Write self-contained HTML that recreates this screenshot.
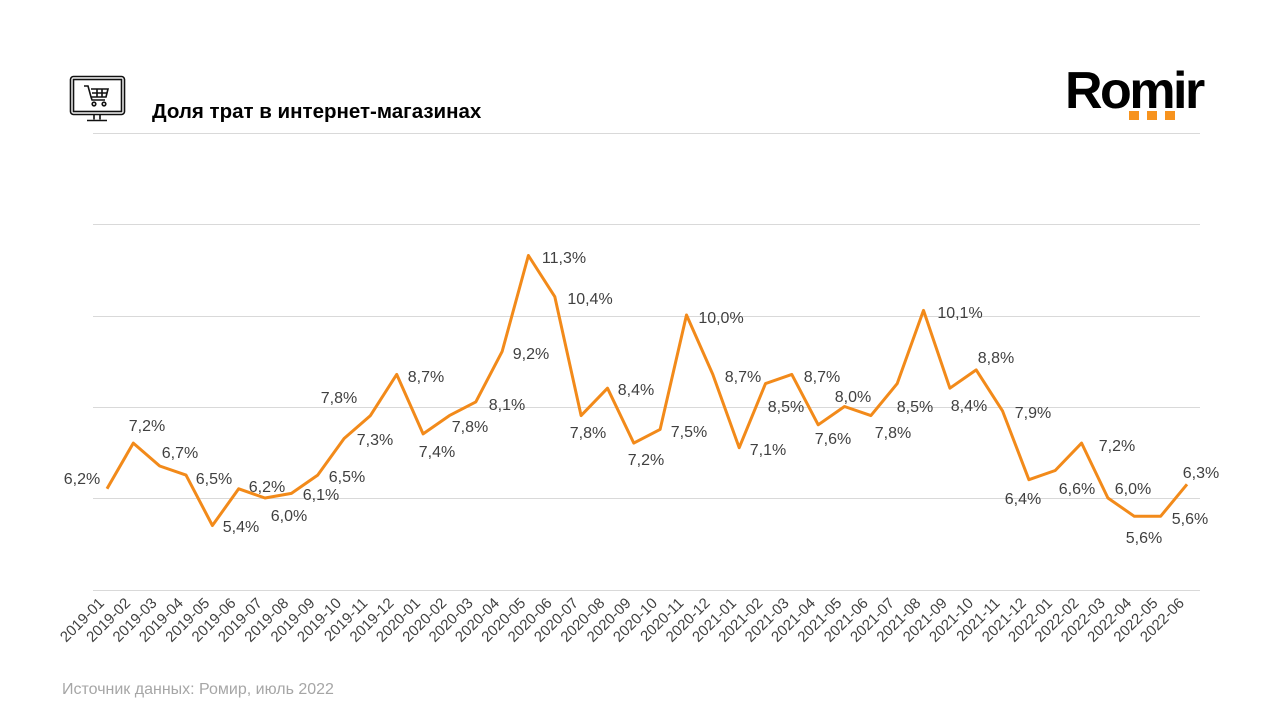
<!DOCTYPE html>
<html><head><meta charset="utf-8"><style>
html,body{margin:0;padding:0;background:#fff;}
body{width:1280px;height:720px;overflow:hidden;}
svg{display:block;font-family:"Liberation Sans",Arial,sans-serif;}
</style></head><body>
<svg width="1280" height="720" viewBox="0 0 1280 720" xmlns="http://www.w3.org/2000/svg">
<!-- icon -->
<g fill="none" stroke="#111" stroke-width="1.6">
<rect x="70.5" y="76.5" width="54" height="38" rx="3"/>
<rect x="73.5" y="79.5" width="48" height="32"/>
<path d="M94 114.5 v5 M100 114.5 v5 M87 120.5 h20"/>
<path d="M84 86 h4 l3 11 h15 l2 -8 h-17 M92 93 h15 M97 89 v8 M102 89 v8 M91 97 l1 3 h13"/>
<circle cx="94" cy="104" r="1.8"/><circle cx="104" cy="104" r="1.8"/>
</g>
<text x="152" y="118" font-size="20.5" font-weight="bold" fill="#000">Доля трат в интернет-магазинах</text>
<!-- logo -->
<text x="1065" y="108" font-size="52" font-weight="bold" fill="#000" letter-spacing="-2.5">Romir</text>
<rect x="1129" y="111" width="10" height="9" fill="#F7931E"/>
<rect x="1147" y="111" width="10" height="9" fill="#F7931E"/>
<rect x="1165" y="111" width="10" height="9" fill="#F7931E"/>
<!-- grid -->
<g stroke="#d9d9d9" stroke-width="1">
<line x1="93" y1="133.5" x2="1200" y2="133.5"/>
<line x1="93" y1="224.5" x2="1200" y2="224.5"/>
<line x1="93" y1="316.5" x2="1200" y2="316.5"/>
<line x1="93" y1="407.5" x2="1200" y2="407.5"/>
<line x1="93" y1="498.5" x2="1200" y2="498.5"/>
<line x1="93" y1="590.5" x2="1200" y2="590.5"/>
</g>
<polyline fill="none" stroke="#F28A1A" stroke-width="3" stroke-linejoin="round" points="107,488.8 133.3,443.1 159.7,466 186,475.1 212.4,525.5 238.7,488.8 265,498 291.4,493.4 317.7,475.1 344.1,438.5 370.4,415.6 396.7,374.4 423.1,433.9 449.4,415.6 475.8,401.9 502.1,351.6 528.4,255.5 554.8,296.7 581.1,415.6 607.5,388.2 633.8,443.1 660.1,429.4 686.5,315 712.8,374.4 739.2,447.7 765.5,383.6 791.8,374.4 818.2,424.8 844.5,406.5 870.9,415.6 897.2,383.6 923.5,310.4 949.9,388.2 976.2,369.9 1002.6,411.1 1028.9,479.7 1055.2,470.5 1081.6,443.1 1107.9,498 1134.3,516.3 1160.6,516.3 1187,484.3"/>
<g font-size="16" fill="#404040" text-anchor="middle">
<text x="82" y="484">6,2%</text>
<text x="147" y="431">7,2%</text>
<text x="180" y="458">6,7%</text>
<text x="214" y="484">6,5%</text>
<text x="241" y="532">5,4%</text>
<text x="267" y="492">6,2%</text>
<text x="289" y="521">6,0%</text>
<text x="321" y="500">6,1%</text>
<text x="347" y="482">6,5%</text>
<text x="339" y="403">7,8%</text>
<text x="375" y="445">7,3%</text>
<text x="426" y="382">8,7%</text>
<text x="437" y="457">7,4%</text>
<text x="470" y="432">7,8%</text>
<text x="507" y="410">8,1%</text>
<text x="531" y="359">9,2%</text>
<text x="564" y="263">11,3%</text>
<text x="590" y="304">10,4%</text>
<text x="588" y="438">7,8%</text>
<text x="636" y="395">8,4%</text>
<text x="646" y="465">7,2%</text>
<text x="689" y="437">7,5%</text>
<text x="721" y="323">10,0%</text>
<text x="743" y="382">8,7%</text>
<text x="768" y="455">7,1%</text>
<text x="786" y="412">8,5%</text>
<text x="822" y="382">8,7%</text>
<text x="833" y="444">7,6%</text>
<text x="853" y="402">8,0%</text>
<text x="893" y="438">7,8%</text>
<text x="915" y="412">8,5%</text>
<text x="960" y="318">10,1%</text>
<text x="969" y="411">8,4%</text>
<text x="996" y="363">8,8%</text>
<text x="1033" y="418">7,9%</text>
<text x="1023" y="504">6,4%</text>
<text x="1077" y="494">6,6%</text>
<text x="1117" y="451">7,2%</text>
<text x="1133" y="494">6,0%</text>
<text x="1144" y="543">5,6%</text>
<text x="1190" y="524">5,6%</text>
<text x="1201" y="478">6,3%</text>
</g>
<g font-size="15" fill="#404040" text-anchor="end">
<text transform="translate(105,604) rotate(-45)">2019-01</text>
<text transform="translate(131.3,604) rotate(-45)">2019-02</text>
<text transform="translate(157.7,604) rotate(-45)">2019-03</text>
<text transform="translate(184,604) rotate(-45)">2019-04</text>
<text transform="translate(210.4,604) rotate(-45)">2019-05</text>
<text transform="translate(236.7,604) rotate(-45)">2019-06</text>
<text transform="translate(263,604) rotate(-45)">2019-07</text>
<text transform="translate(289.4,604) rotate(-45)">2019-08</text>
<text transform="translate(315.7,604) rotate(-45)">2019-09</text>
<text transform="translate(342.1,604) rotate(-45)">2019-10</text>
<text transform="translate(368.4,604) rotate(-45)">2019-11</text>
<text transform="translate(394.7,604) rotate(-45)">2019-12</text>
<text transform="translate(421.1,604) rotate(-45)">2020-01</text>
<text transform="translate(447.4,604) rotate(-45)">2020-02</text>
<text transform="translate(473.8,604) rotate(-45)">2020-03</text>
<text transform="translate(500.1,604) rotate(-45)">2020-04</text>
<text transform="translate(526.4,604) rotate(-45)">2020-05</text>
<text transform="translate(552.8,604) rotate(-45)">2020-06</text>
<text transform="translate(579.1,604) rotate(-45)">2020-07</text>
<text transform="translate(605.5,604) rotate(-45)">2020-08</text>
<text transform="translate(631.8,604) rotate(-45)">2020-09</text>
<text transform="translate(658.1,604) rotate(-45)">2020-10</text>
<text transform="translate(684.5,604) rotate(-45)">2020-11</text>
<text transform="translate(710.8,604) rotate(-45)">2020-12</text>
<text transform="translate(737.2,604) rotate(-45)">2021-01</text>
<text transform="translate(763.5,604) rotate(-45)">2021-02</text>
<text transform="translate(789.8,604) rotate(-45)">2021-03</text>
<text transform="translate(816.2,604) rotate(-45)">2021-04</text>
<text transform="translate(842.5,604) rotate(-45)">2021-05</text>
<text transform="translate(868.9,604) rotate(-45)">2021-06</text>
<text transform="translate(895.2,604) rotate(-45)">2021-07</text>
<text transform="translate(921.5,604) rotate(-45)">2021-08</text>
<text transform="translate(947.9,604) rotate(-45)">2021-09</text>
<text transform="translate(974.2,604) rotate(-45)">2021-10</text>
<text transform="translate(1000.6,604) rotate(-45)">2021-11</text>
<text transform="translate(1026.9,604) rotate(-45)">2021-12</text>
<text transform="translate(1053.2,604) rotate(-45)">2022-01</text>
<text transform="translate(1079.6,604) rotate(-45)">2022-02</text>
<text transform="translate(1105.9,604) rotate(-45)">2022-03</text>
<text transform="translate(1132.3,604) rotate(-45)">2022-04</text>
<text transform="translate(1158.6,604) rotate(-45)">2022-05</text>
<text transform="translate(1185,604) rotate(-45)">2022-06</text>
</g>
<text x="62" y="694" font-size="16" fill="#a6a6a6">Источник данных: Ромир, июль 2022</text>
</svg>
</body></html>
